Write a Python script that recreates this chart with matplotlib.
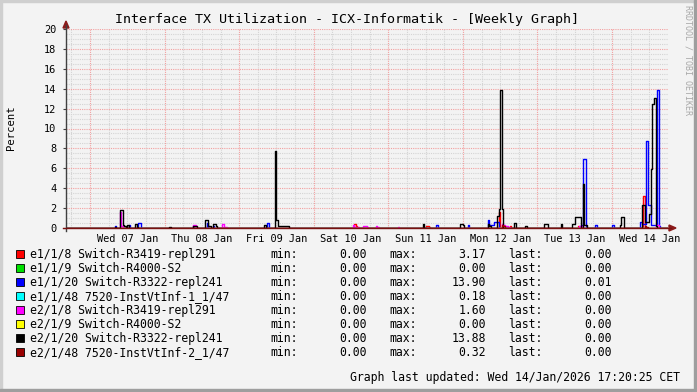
import numpy as np
import matplotlib
matplotlib.use("Agg")
import matplotlib.pyplot as plt
from matplotlib.patches import Rectangle, Polygon
from matplotlib.lines import Line2D

# Data (hours since Wed 07 Jan 00:00, 30 min steps, everything else is 0)
red_t = [12.5, 37.5, 85, 85.5, 108, 108.5, 109, 131.5, 135, 157, 178]
red_v = [0.1, 0.2, 0.4, 0.2, 0.2, 0.2, 0.1, 1.6, 0.2, 0.2, 3.17]

green_t = []
green_v = []

blue_t = [8, 12.5, 15.5, 16, 33, 37.5, 39.5, 57, 111.5, 121.5, 128, 128.5, 129, 129.5,
          130, 130.5, 131, 158, 158.5, 159, 162.5, 168, 177, 177.5, 178, 178.5, 179,
          179.5, 180, 180.5, 181, 181.5, 182, 182.5, 183]
blue_v = [0.2, 0.3, 0.5, 0.5, 0.2, 0.5, 0.2, 0.5, 0.3, 0.3, 0.8, 0.3, 0.3, 0.3,
          0.6, 0.6, 0.6, 0.3, 6.95, 6.95, 0.3, 0.3, 0.6, 0.4, 0.4, 0.4, 8.7,
          2.3, 2.3, 0.3, 0.3, 0.3, 0.3, 13.9, 0.2]

cyan_t = [178.5, 182]
cyan_v = [0.18, 0.1]

magenta_t = [9.5, 10, 33, 33.5, 42.5, 43, 43.5, 84.5, 85, 85.5, 86, 88, 88.5, 89, 92,
             92.5, 99, 132.5, 133, 133.5, 134, 134.5, 157.5, 158, 182, 182.5]
magenta_v = [1.6, 0.2, 0.3, 0.3, 0.4, 0.1, 0.1, 0.3, 0.1, 0.1, 0.1, 0.2, 0.2, 0.1, 0.2,
             0.1, 0.1, 0.4, 0.3, 0.2, 0.2, 0.1, 0.2, 0.2, 0.3, 0.3]

yellow_t = []
yellow_v = []

black_t = [8, 9.5, 10, 10.5, 11, 12, 14.5, 15, 25.5, 33, 33.5, 34, 37, 37.5, 38, 38.5,
           39.5, 40, 40.5, 56, 59.5, 60, 60.5, 61, 61.5, 62, 62.5, 63, 63.5, 107, 119,
           119.5, 120, 128, 128.5, 131, 131.5, 132, 132.5, 136.5, 140, 146, 146.5, 147,
           151.5, 155, 155.5, 156, 156.5, 157, 157.5, 158.5, 159, 159.5, 170.5, 171,
           171.5, 177.5, 178, 178.5, 179, 179.5, 180, 180.5, 181, 181.5, 182]
black_v = [0.1, 1.8, 1.8, 0.3, 0.2, 0.3, 0.4, 0.1, 0.15, 0.2, 0.2, 0.2, 0.8, 0.8, 0.2, 0.2,
           0.4, 0.4, 0.2, 0.3, 7.7, 0.8, 0.2, 0.2, 0.2, 0.2, 0.2, 0.2, 0.2, 0.4, 0.4,
           0.4, 0.3, 0.4, 0.2, 1.2, 1.9, 13.88, 1.9, 0.5, 0.2, 0.4, 0.4, 0.4,
           0.4, 0.4, 0.4, 1.1, 1.1, 1.1, 1.1, 4.4, 0.3, 0.3, 0.3, 1.1,
           1.1, 2.3, 2.3, 0.6, 0.6, 0.6, 1.4, 5.9, 12.5, 13.1, 0.2]

darkred_t = [132.5, 133, 178.5, 179]
darkred_v = [0.32, 0.2, 0.2, 0.1]

names = ["e1/1/8 Switch-R3419-repl291", "e1/1/9 Switch-R4000-S2",
         "e1/1/20 Switch-R3322-repl241", "e1/1/48 7520-InstVtInf-1_1/47",
         "e2/1/8 Switch-R3419-repl291", "e2/1/9 Switch-R4000-S2",
         "e2/1/20 Switch-R3322-repl241", "e2/1/48 7520-InstVtInf-2_1/47"]
mins = ["0.00", "0.00", "0.00", "0.00", "0.00", "0.00", "0.00", "0.00"]
maxs = ["3.17", "0.00", "13.90", "0.18", "1.60", "0.00", "13.88", "0.32"]
lasts = ["0.00", "0.00", "0.01", "0.00", "0.00", "0.00", "0.00", "0.00"]
colors = ["#FF0000", "#00E000", "#0000FF", "#00FFFF", "#FF00FF", "#FFFF00", "#000000", "#990000"]

day_labels = ["Wed 07 Jan", "Thu 08 Jan", "Fri 09 Jan", "Sat 10 Jan",
              "Sun 11 Jan", "Mon 12 Jan", "Tue 13 Jan", "Wed 14 Jan"]

series = [(red_t, red_v), (green_t, green_v), (blue_t, blue_v), (cyan_t, cyan_v),
          (magenta_t, magenta_v), (yellow_t, yellow_v), (black_t, black_v), (darkred_t, darkred_v)]

# Constants
W, H = 697, 392
x_min, x_max = -7.72, 186.0
mono = "DejaVu Sans Mono"
back = "#F3F3F3"


def fx(px):  # pixel -> figure coords
    return px / W


def fy(py):
    return 1 - py / H


fig = plt.figure(figsize=(W / 100, H / 100), dpi=100, facecolor=back)
ax = fig.add_axes([fx(66), fy(228), (668 - 66) / W, (228 - 29) / H])
ax.set_facecolor(back)
ax.set_xlim(x_min, x_max)
ax.set_ylim(0, 20)
for s in ax.spines.values():
    s.set_visible(False)

# Grid lines (dotted like rrdtool)
for y in np.arange(0.5, 20.01, 0.5):
    if y % 2 == 0:
        ax.axhline(y, color="#F2A0A0", lw=0.8, ls=(0, (1, 1)), zorder=1)
    else:
        ax.axhline(y, color="#D4D4D4", lw=0.8, ls=(0, (1, 1)), zorder=0.5)
for h in np.arange(-6, x_max, 6):
    if h % 24 == 0:
        ax.axvline(h, color="#F2A0A0", lw=0.8, ls=(0, (1, 1)), zorder=1)
    else:
        ax.axvline(h, color="#D4D4D4", lw=0.8, ls=(0, (1, 1)), zorder=0.5)

# Drawing the lines
bins = np.arange(-8, 186.5, 0.5)
for (t, v), c in zip(series, colors):
    vals = np.zeros(len(bins))
    for ti, vi in zip(t, v):
        vals[int(round((ti + 8) / 0.5))] = vi
    ax.step(np.append(bins, bins[-1] + 0.5), np.append(vals, vals[-1]), where="post",
            color=c, lw=1.0, zorder=3)

# Ticks
ax.set_yticks(np.arange(0, 21, 2))
ax.set_yticklabels([str(v) for v in range(0, 21, 2)], family=mono, fontsize=7.4)
ax.tick_params(axis="y", length=2, pad=5, color="#404040")
ax.set_xticks(np.arange(0, 8) * 24 + 12)
ax.set_xticklabels(day_labels, family=mono, fontsize=7.4)
ax.tick_params(axis="x", length=0, pad=4)

# Axes and arrows
fig.add_artist(Line2D([fx(66), fx(66)], [fy(231), fy(25)], color="#404040", lw=1))
fig.add_artist(Line2D([fx(63), fx(671)], [fy(228), fy(228)], color="#7A1010", lw=1))
fig.add_artist(Polygon([(fx(63), fy(28)), (fx(69), fy(28)), (fx(66), fy(21))],
                       closed=True, color="#8B1A1A", transform=fig.transFigure))
fig.add_artist(Polygon([(fx(669), fy(225)), (fx(669), fy(231)), (fx(676), fy(228))],
                       closed=True, color="#8B1A1A", transform=fig.transFigure))

# Labeling the Graph
fig.text(fx(347), fy(19), "Interface TX Utilization - ICX-Informatik - [Weekly Graph]",
         family=mono, fontsize=9.6, ha="center", va="center")
fig.text(fx(11), fy(128), "Percent", family=mono, fontsize=7.6, rotation=90,
         ha="center", va="center")
fig.text(fx(688), fy(60), "RRDTOOL / TOBI OETIKER", family=mono, fontsize=6,
         color="#A8A8A8", rotation=270, ha="center", va="center")

# Legend
for i in range(len(names)):
    yc = 254.3 + 14 * i
    fig.add_artist(Rectangle((fx(15.5), fy(yc + 4)), 8 / W, 8 / H, facecolor=colors[i],
                             edgecolor="black", lw=0.6, transform=fig.transFigure))
    fig.text(fx(30), fy(yc), names[i], family=mono, fontsize=8.3, va="center")
    fig.text(fx(270), fy(yc), "min:", family=mono, fontsize=8.3, va="center")
    fig.text(fx(367), fy(yc), mins[i], family=mono, fontsize=8.3, va="center", ha="right")
    fig.text(fx(389), fy(yc), "max:", family=mono, fontsize=8.3, va="center")
    fig.text(fx(486), fy(yc), maxs[i], family=mono, fontsize=8.3, va="center", ha="right")
    fig.text(fx(508), fy(yc), "last:", family=mono, fontsize=8.3, va="center")
    fig.text(fx(612), fy(yc), lasts[i], family=mono, fontsize=8.3, va="center", ha="right")

fig.text(fx(680), fy(377), "Graph last updated: Wed 14/Jan/2026 17:20:25 CET",
         family=mono, fontsize=8.3, va="center", ha="right")

# Frame shading
fig.add_artist(Rectangle((0, fy(2)), 1, 2 / H, color="#CFCFCF", transform=fig.transFigure))
fig.add_artist(Rectangle((0, 0), 2 / W, 1, color="#CFCFCF", transform=fig.transFigure))
fig.add_artist(Rectangle((fx(694), 0), 3 / W, 1, color="#9E9E9E", transform=fig.transFigure))
fig.add_artist(Rectangle((0, 0), 1, 3 / H, color="#9E9E9E", transform=fig.transFigure))

fig.savefig("out.png", dpi=100, facecolor=back)
